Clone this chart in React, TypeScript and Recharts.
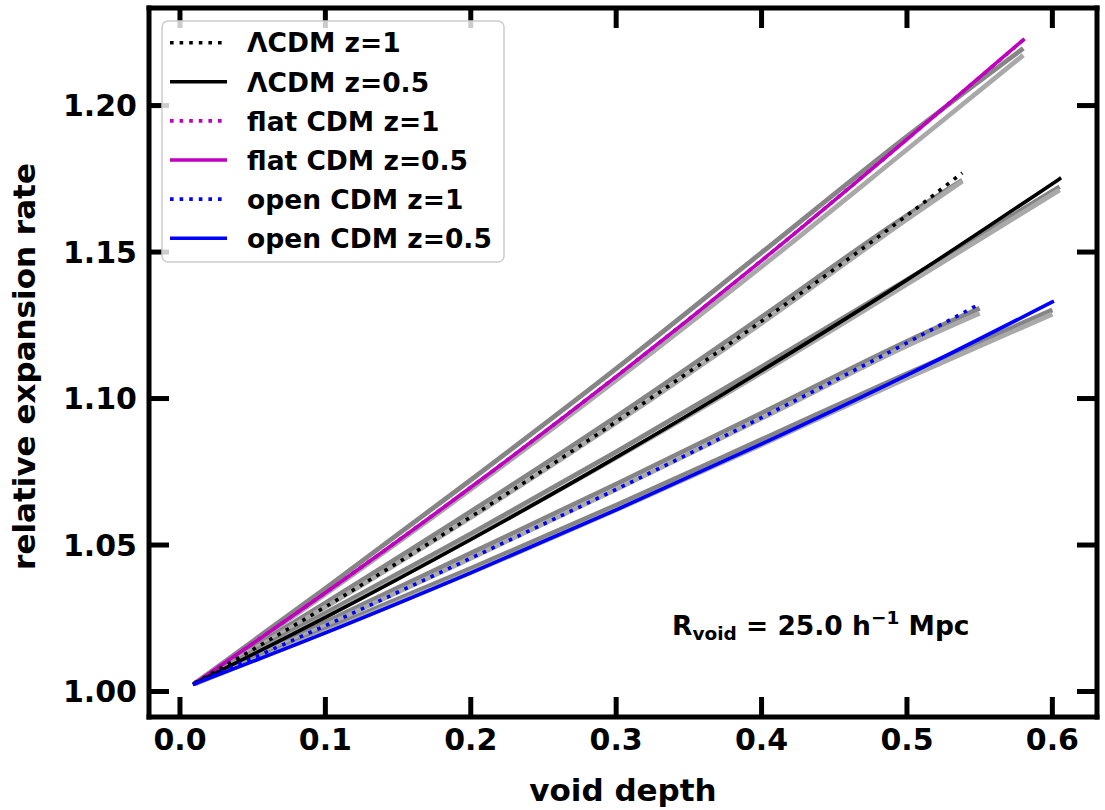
import React from 'react';
import { LineChart, Line, XAxis, YAxis, Legend, Label } from 'recharts';

// ---------- layout constants ----------
const W = 1105;
const H = 810;
const PLOT_L = 149;
const PLOT_R = 1097;
const PLOT_T = 8;
const PLOT_B = 717;
const FONT = "'DejaVu Sans', sans-serif";

// ---------- axes ----------
const xTicks = [0, 0.1, 0.2, 0.3, 0.4, 0.5, 0.6];
const yTicks = [1.0, 1.05, 1.1, 1.15, 1.2];
const xDomain = [-0.0213, 0.6307];
const yDomain = [0.9913, 1.2333];

// ---------- data ----------
const flatX = [0.01, 0.1, 0.2, 0.3, 0.4, 0.5, 0.58];
const flatZ1Y = [1.0027, 1.0337, 1.0697, 1.1075, 1.1471, 1.1885, 1.2224];
const flatZ05Y = [1.0027, 1.0337, 1.0697, 1.1075, 1.1471, 1.1885, 1.2224];
const flatGrayA = [1.0027, 1.0352, 1.0722, 1.1102, 1.1498, 1.1895, 1.2195];
const flatGrayB = [1.0027, 1.0333, 1.069, 1.1063, 1.145, 1.185, 1.2172];

const lcdmZ1X = [0.01, 0.1, 0.2, 0.3, 0.4, 0.5, 0.538];
const lcdmZ1Y = [1.0028, 1.0289, 1.0596, 1.0921, 1.1264, 1.1625, 1.177];
const lcdmZ1GrayA = [1.0028, 1.0302, 1.0614, 1.0938, 1.1278, 1.1625, 1.1745];
const lcdmZ1GrayB = [1.0028, 1.0288, 1.0594, 1.0917, 1.1257, 1.1612, 1.1742];

const lcdmZ05X = [0.01, 0.1, 0.2, 0.3, 0.4, 0.5, 0.605];
const lcdmZ05Y = [1.0027, 1.0253, 1.0519, 1.0799, 1.1095, 1.1405, 1.175];
const lcdmZ05GrayA = [1.0027, 1.0268, 1.0538, 1.0818, 1.1108, 1.1405, 1.1723];
const lcdmZ05GrayB = [1.0027, 1.0255, 1.0521, 1.0798, 1.1088, 1.139, 1.1712];

const openZ1X = [0.01, 0.1, 0.2, 0.3, 0.4, 0.5, 0.55];
const openZ1Y = [1.0026, 1.0225, 1.0455, 1.069, 1.0935, 1.119, 1.1323];
const openZ1GrayA = [1.0026, 1.0237, 1.0472, 1.0708, 1.095, 1.1195, 1.1308];
const openZ1GrayB = [1.0026, 1.0225, 1.0455, 1.069, 1.0932, 1.118, 1.1291];

const openZ05X = [0.01, 0.1, 0.2, 0.3, 0.4, 0.5, 0.6];
const openZ05Y = [1.0026, 1.02, 1.0405, 1.062, 1.0845, 1.108, 1.133];
const openZ05GrayA = [1.0026, 1.0212, 1.042, 1.0636, 1.086, 1.1085, 1.1302];
const openZ05GrayB = [1.0026, 1.0203, 1.0406, 1.062, 1.0842, 1.107, 1.1288];

const annotation = { R: 25.0 };

// ---------- styles ----------
const MAGENTA = '#bf00bf';
const BLUE = '#0000ff';
const BLACK = '#000000';
const GRAY_DARK = '#858585';
const GRAY_LIGHT = '#a9a9a9';
const LW = 3.6;
const GLW = 4.8;
const DOTS = '3.6 6';

const toPts = (xs: number[], ys: number[]) => xs.map((x, i) => ({ x, y: ys[i] }));

const grayLines = [
  { key: 'g1', xs: flatX, ys: flatGrayA, color: GRAY_DARK },
  { key: 'g2', xs: flatX, ys: flatGrayB, color: GRAY_LIGHT },
  { key: 'g3', xs: lcdmZ1X, ys: lcdmZ1GrayA, color: GRAY_DARK },
  { key: 'g4', xs: lcdmZ1X, ys: lcdmZ1GrayB, color: GRAY_LIGHT },
  { key: 'g5', xs: lcdmZ05X, ys: lcdmZ05GrayA, color: GRAY_DARK },
  { key: 'g6', xs: lcdmZ05X, ys: lcdmZ05GrayB, color: GRAY_LIGHT },
  { key: 'g7', xs: openZ1X, ys: openZ1GrayA, color: GRAY_DARK },
  { key: 'g8', xs: openZ1X, ys: openZ1GrayB, color: GRAY_LIGHT },
  { key: 'g9', xs: openZ05X, ys: openZ05GrayA, color: GRAY_DARK },
  { key: 'g10', xs: openZ05X, ys: openZ05GrayB, color: GRAY_LIGHT },
];

const mainSeries = [
  { name: 'ΛCDM z=1', xs: lcdmZ1X, ys: lcdmZ1Y, color: BLACK, dotted: true },
  { name: 'ΛCDM z=0.5', xs: lcdmZ05X, ys: lcdmZ05Y, color: BLACK, dotted: false },
  { name: 'flat CDM z=1', xs: flatX, ys: flatZ1Y, color: MAGENTA, dotted: true },
  { name: 'flat CDM z=0.5', xs: flatX, ys: flatZ05Y, color: MAGENTA, dotted: false },
  { name: 'open CDM z=1', xs: openZ1X, ys: openZ1Y, color: BLUE, dotted: true },
  { name: 'open CDM z=0.5', xs: openZ05X, ys: openZ05Y, color: BLUE, dotted: false },
];
// draw order: dotted flat under solid flat
const drawOrder = [2, 3, 0, 1, 4, 5];

// ---------- ticks ----------
const TICK_LEN = 20;
const TICK_W = 5;

const XTickBottom = (props: any) => {
  const { x, payload } = props;
  return (
    <g>
      <line x1={x} x2={x} y1={PLOT_B} y2={PLOT_B - TICK_LEN} stroke="#000" strokeWidth={TICK_W} />
      <text x={x} y={PLOT_B + 33} textAnchor="middle" fontFamily={FONT} fontWeight="bold" fontSize={30} fill="#000">
        {Number(payload.value).toFixed(1)}
      </text>
    </g>
  );
};
const XTickTop = (props: any) => {
  const { x } = props;
  return <line x1={x} x2={x} y1={PLOT_T} y2={PLOT_T + TICK_LEN} stroke="#000" strokeWidth={TICK_W} />;
};
const YTickLeft = (props: any) => {
  const { y, payload } = props;
  return (
    <g>
      <line x1={PLOT_L} x2={PLOT_L + TICK_LEN} y1={y} y2={y} stroke="#000" strokeWidth={TICK_W} />
      <text x={137} y={y + 10.9} textAnchor="end" fontFamily={FONT} fontWeight="bold" fontSize={30} fill="#000">
        {Number(payload.value).toFixed(2)}
      </text>
    </g>
  );
};
const YTickRight = (props: any) => {
  const { y } = props;
  return <line x1={PLOT_R} x2={PLOT_R - TICK_LEN} y1={y} y2={y} stroke="#000" strokeWidth={TICK_W} />;
};

// ---------- overlay (legend box + annotation) ----------
const LEG_X = 162;
const LEG_Y = 21;
const LEG_W = 342;
const LEG_H = 241;

const Overlay = () => (
  <svg width={W} height={H} style={{ position: 'absolute', left: 0, top: 0, pointerEvents: 'none' }}>
    <rect x={LEG_X} y={LEG_Y} width={LEG_W} height={LEG_H} rx={6} ry={6} fill="#ffffff" fillOpacity={0.8} stroke="#cccccc" strokeWidth={1.5} />
    {mainSeries.map((s, i) => {
      const cy = 42.7 + i * 39.1;
      return (
        <g key={s.name}>
          <line x1={170} x2={227} y1={cy} y2={cy} stroke={s.color} strokeWidth={LW} strokeDasharray={s.dotted ? DOTS : undefined} />
          <text x={247} y={cy + 9.7} fontFamily={FONT} fontWeight="bold" fontSize={26.5} fill="#000">{s.name}</text>
        </g>
      );
    })}
    <text x={672} y={635} fontFamily={FONT} fontWeight="bold" fontSize={26.5} fill="#000">
      R
      <tspan fontSize={18.5} dy={4.5}>void</tspan>
      <tspan fontSize={26.5} dy={-4.5}>{` = ${annotation.R.toFixed(1)} h`}</tspan>
      <tspan fontSize={18.5} dy={-11.5}>−1</tspan>
      <tspan fontSize={26.5} dy={11.5}> Mpc</tspan>
    </text>
  </svg>
);

const renderXLabel = () => (
  <text x={(PLOT_L + PLOT_R) / 2} y={801} textAnchor="middle" fontFamily={FONT} fontWeight="bold" fontSize={31} fill="#000">
    void depth
  </text>
);
const renderYLabel = () => (
  <text
    x={0}
    y={0}
    transform={`translate(35, ${(PLOT_T + PLOT_B) / 2 + 4}) rotate(-90)`}
    textAnchor="middle"
    fontFamily={FONT}
    fontWeight="bold"
    fontSize={31}
    fill="#000"
  >
    relative expansion rate
  </text>
);

const axisLineStyle = { stroke: '#000', strokeWidth: 5, strokeLinecap: 'square' as const };

export default function App() {
  return (
    <div style={{ position: 'absolute', left: 0, top: 0, width: W, height: H, background: '#fff' }}>
      <LineChart width={W} height={H} margin={{ top: PLOT_T - 1, right: W - PLOT_R - 1, bottom: 8, left: 8 }}>
        <XAxis
          xAxisId="b"
          type="number"
          dataKey="x"
          domain={xDomain}
          allowDataOverflow
          ticks={xTicks}
          interval={0}
          tickSize={0}
          tickMargin={0}
          tickLine={false}
          tick={<XTickBottom />}
          axisLine={axisLineStyle}
          height={H - 8 - PLOT_B}
        >
          <Label content={renderXLabel} />
        </XAxis>
        <XAxis
          xAxisId="t"
          orientation="top"
          type="number"
          dataKey="x"
          domain={xDomain}
          allowDataOverflow
          ticks={xTicks}
          interval={0}
          tickSize={0}
          tickMargin={0}
          tickLine={false}
          tick={<XTickTop />}
          axisLine={axisLineStyle}
          height={1}
        />
        <YAxis
          yAxisId="l"
          type="number"
          domain={yDomain}
          allowDataOverflow
          ticks={yTicks}
          interval={0}
          tickSize={0}
          tickMargin={0}
          tickLine={false}
          tick={<YTickLeft />}
          axisLine={axisLineStyle}
          width={PLOT_L - 8}
        >
          <Label content={renderYLabel} />
        </YAxis>
        <YAxis
          yAxisId="r"
          orientation="right"
          type="number"
          domain={yDomain}
          allowDataOverflow
          ticks={yTicks}
          interval={0}
          tickSize={0}
          tickMargin={0}
          tickLine={false}
          tick={<YTickRight />}
          axisLine={axisLineStyle}
          width={1}
        />
        {grayLines.map((g) => (
          <Line
            key={g.key}
            xAxisId="b"
            yAxisId="l"
            data={toPts(g.xs, g.ys)}
            dataKey="y"
            type="monotoneX"
            stroke={g.color}
            strokeWidth={GLW}
            dot={false}
            activeDot={false}
            legendType="none"
            isAnimationActive={false}
          />
        ))}
        {drawOrder.map((idx) => {
          const s = mainSeries[idx];
          return (
            <Line
              key={s.name}
              name={s.name}
              xAxisId="b"
              yAxisId="l"
              data={toPts(s.xs, s.ys)}
              dataKey="y"
              type="monotoneX"
              stroke={s.color}
              strokeWidth={LW}
              strokeDasharray={s.dotted ? DOTS : undefined}
              strokeLinecap={s.dotted ? 'butt' : 'square'}
              dot={false}
              activeDot={false}
              isAnimationActive={false}
            />
          );
        })}
        <Legend
          layout="vertical"
          align="center"
          verticalAlign="middle"
          wrapperStyle={{ position: 'absolute', left: 0, top: 0, width: W, height: H, pointerEvents: 'none' }}
          content={() => <Overlay />}
        />
      </LineChart>
    </div>
  );
}
